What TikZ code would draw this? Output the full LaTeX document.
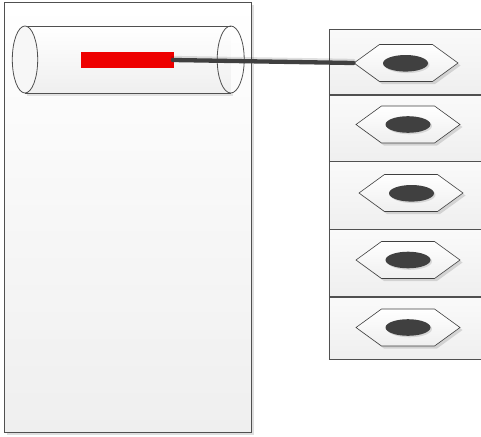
\documentclass[tikz,border=0pt]{standalone}
\usetikzlibrary{shapes.geometric,shapes.symbols,shadows}
\definecolor{edge}{HTML}{505050}
\definecolor{ink}{HTML}{404040}
\definecolor{panelbot}{HTML}{EFEFEF}
\definecolor{barred}{HTML}{EE0000}
\tikzset{
  softshadow/.style={drop shadow={shadow xshift=2.5pt, shadow yshift=-2.5pt, fill=black, opacity=0.13}},
  panel/.style={draw=edge, line width=1pt, top color=white, bottom color=panelbot, softshadow},
  rowbox/.style={draw=edge, line width=0.9pt, top color=white!98!black, bottom color=panelbot, rectangle, minimum width=170pt, inner sep=0pt, anchor=north west},
  hexa/.style={signal, signal to=west and east, signal pointer angle=72, draw=ink, line width=0.6pt,
    top color=white, bottom color=panelbot, minimum width=104pt, minimum height=37pt, inner sep=0pt, softshadow},
  dot/.style={ellipse, fill=ink, minimum width=45pt, minimum height=16.6pt, inner sep=0pt,
    drop shadow={shadow xshift=1.5pt, shadow yshift=-1.5pt, fill=black, opacity=0.12}},
  tubeend/.style={draw=edge, line width=0.8pt},
  link/.style={draw=ink, line width=4.3pt, line cap=round}
}
\begin{document}
\begin{tikzpicture}[x=1pt, y=-1pt]
\useasboundingbox (0,0) rectangle (481,436);
\clip (0,0) rectangle (481,436);

% left housing
\node[panel, rectangle, minimum width=247pt, minimum height=430pt, inner sep=0pt, anchor=north west] (housing) at (4,2) {};

% cylinder body with both end faces
\fill[top color=white, bottom color=panelbot] (25,26) rectangle (230.7,93);
\fill[black, opacity=0.1] (27,93) rectangle (233,96);
\draw[tubeend] (25,26) -- (230.7,26);
\draw[tubeend] (25,93) -- (230.7,93);
\draw[tubeend, fill=white!97!black] (25,59.5) ellipse [x radius=12.7, y radius=33.5];
\draw[tubeend] (230.7,59.5) ellipse [x radius=13.5, y radius=33.5];

% red bar inside the tube
\node[fill=barred, minimum width=92.7pt, minimum height=15.4pt, inner sep=0pt] (bar) at (127.3,60) {};

% right stack of slots
\node[rowbox, minimum height=65pt, softshadow] (row1) at (328.5,29) {};
\node[rowbox, minimum height=66pt] (row2) at (328.5,95) {};
\node[rowbox, minimum height=68pt] (row3) at (328.5,161) {};
\node[rowbox, minimum height=67pt] (row4) at (328.5,229) {};
\node[rowbox, minimum height=62pt] (row5) at (328.5,297) {};

% hexagonal pads with dark cores
\node[hexa] (hex1) at (406,63) {};
\node[hexa] (hex2) at (408,124.5) {};
\node[hexa] (hex3) at (411,193) {};
\node[hexa] (hex4) at (408,260) {};
\node[hexa] (hex5) at (408,327.5) {};
\node[dot] (core1) at (405.5,63.3) {};
\node[dot] (core2) at (408,124.5) {};
\node[dot] (core3) at (411.5,193.3) {};
\node[dot] (core4) at (408,260) {};
\node[dot] (core5) at (408,327.5) {};

% lead from the bar to the first pad
\draw[link, draw=black, opacity=0.12] ([xshift=-1pt,yshift=2pt]bar.east) -- ([yshift=2pt]hex1.west);
\draw[link] ([xshift=-1pt]bar.east) -- (hex1.west);
\end{tikzpicture}
\end{document}
